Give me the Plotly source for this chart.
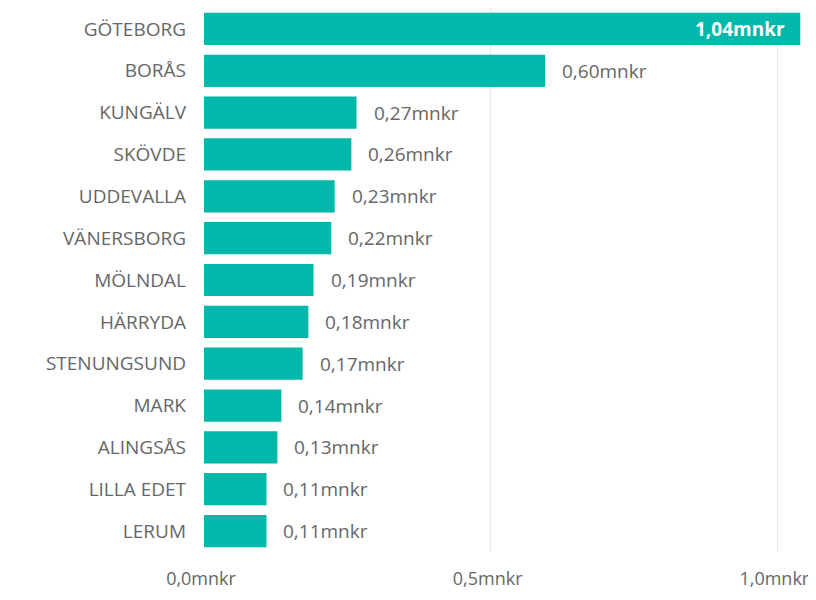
import plotly.graph_objects as go

categories = ["GÖTEBORG", "BORÅS", "KUNGÄLV", "SKÖVDE", "UDDEVALLA", "VÄNERSBORG",
              "MÖLNDAL", "HÄRRYDA", "STENUNGSUND", "MARK", "ALINGSÅS", "LILLA EDET", "LERUM"]
values = [1.04, 0.595, 0.266, 0.257, 0.228, 0.222, 0.191, 0.182, 0.172, 0.135, 0.128, 0.109, 0.109]
labels = ["1,04mnkr", "0,60mnkr", "0,27mnkr", "0,26mnkr", "0,23mnkr", "0,22mnkr",
          "0,19mnkr", "0,18mnkr", "0,17mnkr", "0,14mnkr", "0,13mnkr", "0,11mnkr", "0,11mnkr"]
tick_vals = [0, 0.5, 1.0]
tick_text = ["0,0mnkr", "0,5mnkr", "1,0mnkr"]

FONT = "Open Sans"
GRAY = "#666666"

fig = go.Figure(go.Bar(
    x=values, y=categories, orientation="h",
    marker=dict(color="#01B8AA", line=dict(width=0)),
    hoverinfo="skip",
))

annotations = []
for i, (c, v, t) in enumerate(zip(categories, values, labels)):
    if i == 0:
        annotations.append(dict(x=v, y=c, xref="x", yref="y", text="<b>" + t + "</b>",
                                showarrow=False, xanchor="right", xshift=-13,
                                font=dict(family=FONT, size=19, color="white")))
    else:
        annotations.append(dict(x=v, y=c, xref="x", yref="y", text=t,
                                showarrow=False, xanchor="left", xshift=15,
                                font=dict(family=FONT, size=19, color=GRAY)))

fig.update_layout(
    width=800, height=584,
    margin=dict(l=196, r=2, t=0, b=40),
    plot_bgcolor="white", paper_bgcolor="white",
    bargap=0.23,
    showlegend=False,
    annotations=annotations,
    font=dict(family=FONT, color=GRAY),
    xaxis=dict(range=[0, 1.05], tickvals=tick_vals, ticktext=tick_text, automargin=False,
               showgrid=True, gridcolor="#E8E8E8", gridwidth=1, zeroline=False,
               showline=False, ticks="", ticklabelstandoff=14, ticklabelshift=-3,
               ticklabeloverflow="allow",
               tickfont=dict(family=FONT, size=18, color=GRAY)),
    yaxis=dict(autorange="reversed", showgrid=False, ticks="", ticklabelstandoff=17,
               automargin=False,
               tickfont=dict(family=FONT, size=19, color=GRAY), showline=False),
)

fig.write_html("out.html")
